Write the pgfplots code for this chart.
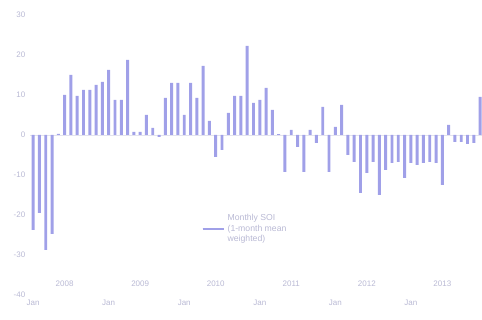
\documentclass[border=0pt]{standalone}
\usepackage{fontspec}
\setmainfont{Liberation Sans}
\usepackage{pgfplots}
\pgfplotsset{compat=1.18}
\definecolor{barc}{RGB}{160,160,232}
\definecolor{txtc}{RGB}{185,185,212}
\begin{document}
\begin{tikzpicture}
\begin{axis}[name=a,
  scale only axis, width=339pt, height=216pt,
  xmin=-0.5, xmax=71.3, ymin=-40, ymax=32,
  axis line style={draw=none},
  ytick={-40,-30,-20,-10,0,10,20,30},
  xtick={0,12,24,36,48,60},
  xticklabels={Jan,Jan,Jan,Jan,Jan,Jan},
  extra x ticks={5,17,29,41,53,65},
  extra x tick labels={2008,2009,2010,2011,2012,2013},
  extra x tick style={tick label style={yshift=14pt}},
  major tick length=0pt,
  tick label style={font=\fontsize{6}{7}\selectfont, text=txtc},
  /pgf/number format/assume math mode=true,
  clip=false,
  legend style={draw=none, fill=none, at={(0.37,0.30)}, anchor=north west,
    font=\fontsize{6.5}{8}\selectfont, text=txtc, cells={align=left}},
  legend image code/.code={\draw[barc, line width=1.6pt] (0pt,0pt) -- (16pt,0pt);},
]
\draw[txtc!40, line width=0.3pt] (axis cs:-0.5,0) -- (axis cs:71.3,0);
\addplot[ybar, bar width=2.2pt, fill=barc, draw=none] coordinates {
(0,-23.75) (1,-19.5) (2,-28.75) (3,-24.75) (4,0.3) (5,10) (6,15) (7,9.75)
(8,11.25) (9,11.25) (10,12.5) (11,13.25) (12,16.25) (13,8.75) (14,8.75) (15,18.75)
(16,0.75) (17,0.75) (18,5) (19,1.75) (20,-0.5) (21,9.25) (22,13) (23,13)
(24,5) (25,13) (26,9.25) (27,17.25) (28,3.5) (29,-5.5) (30,-3.75) (31,5.5)
(32,9.75) (33,9.75) (34,22.25) (35,8) (36,8.75) (37,11.75) (38,6.25) (39,0.2)
(40,-9.25) (41,1.25) (42,-3) (43,-9.25) (44,1.25) (45,-2) (46,7) (47,-9.25)
(48,2) (49,7.5) (50,-5) (51,-6.75) (52,-14.5) (53,-9.5) (54,-6.75) (55,-15)
(56,-8.75) (57,-7) (58,-6.75) (59,-10.75) (60,-7) (61,-7.5) (62,-7) (63,-6.75)
(64,-7) (65,-12.5) (66,2.5) (67,-1.75) (68,-1.75) (69,-2.25) (70,-2) (71,9.5)
};
\addlegendentry{Monthly SOI\\(1-month mean\\weighted)}
\end{axis}
\pgfresetboundingbox
\useasboundingbox ([xshift=-22.5pt,yshift=-18.75pt]a.south west) rectangle ([yshift=5.25pt]a.north east);
\end{tikzpicture}
\end{document}
